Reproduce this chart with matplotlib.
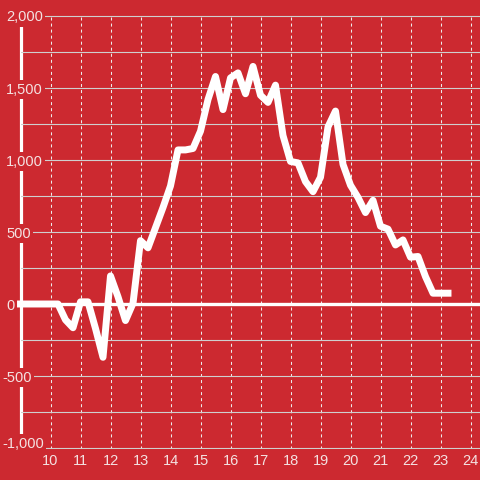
import matplotlib
matplotlib.use("Agg")
import matplotlib.pyplot as plt
import matplotlib.transforms as mtransforms
import numpy as np

plt.rcParams["font.family"] = ["Liberation Sans", "DejaVu Sans"]

# quarter-hour readings, 9:00 to 23:15
values = [
    0, 0, 0, 0,
    0, 0, -110, -165,
    15, 15, -170, -370,
    195, 50, -115, 5,
    440, 390, 530, 670,
    820, 1070, 1070, 1080,
    1200, 1420, 1580, 1350,
    1570, 1605, 1460, 1650,
    1450, 1400, 1520, 1170,
    990, 980, 850, 780,
    880, 1230, 1340, 970,
    825, 740, 635, 720,
    540, 520, 410, 445,
    325, 330, 190, 75,
    75, 75,
]
times = np.arange(9, 9 + 0.25 * len(values), 0.25)

x_ticks = list(range(10, 25))
y_major = [-1000, -500, 0, 500, 1000, 1500, 2000]
y_minor = [-750, -250, 250, 750, 1250, 1750]

bg = "#cc2930"
text_col = "#f4e2e2"

fig = plt.figure(figsize=(4.8, 4.8), dpi=100)
fig.patch.set_facecolor(bg)

# axes placed in pixel terms: spine at x~20.5, 30 px per hour, 72 px per 500
ymin, ymax = -1005, 2005
px_per_unit_y = 72 / 500
top_px = 16 - (ymax - 2000) * px_per_unit_y
bot_px = 448 + (-1000 - ymin) * px_per_unit_y
ax = fig.add_axes([20.5 / 480, 1 - bot_px / 480, 1 - 20.5 / 480, (bot_px - top_px) / 480])
ax.set_facecolor(bg)
ax.set_xlim(9, 9 + 459.5 / 30)
ax.set_ylim(ymin, ymax)

ax.set_axisbelow(True)
for side in ["top", "right", "bottom"]:
    ax.spines[side].set_visible(False)
ax.spines["left"].set_color("white")
ax.spines["left"].set_linewidth(2.3)
ax.spines["left"].set_zorder(0.4)

ax.set_xticks(x_ticks)
ax.set_xticklabels([str(t) for t in x_ticks])
ax.set_yticks(y_major)
ax.set_yticklabels([f"{v:,}" for v in y_major])
ax.set_yticks(y_minor, minor=True)

ax.tick_params(axis="x", length=0, pad=3.5, labelsize=10.5, labelcolor=text_col)
ax.tick_params(axis="y", which="both", length=0, pad=10.4, labelsize=10.5, labelcolor=text_col)

for v, lab in zip(y_major, ax.get_yticklabels()):
    lab.set_horizontalalignment("left")
    lab.set_bbox(dict(facecolor=bg, edgecolor="none", pad=1.5))
    dx = -4 if v < 0 else 0
    dy = 6 if v == -1000 else 0
    if dx or dy:
        shift = mtransforms.ScaledTranslation(dx / 100, dy / 100, fig.dpi_scale_trans)
        lab.set_transform(lab.get_transform() + shift)

ax.grid(axis="y", which="both", color="#cfcfcf", linewidth=0.8)
ax.grid(axis="x", which="major", color="#ececec", linewidth=0.75, linestyle=(0, (2.9, 2.9)))

ax.axhline(0, color="white", linewidth=2.4, zorder=1)

ax.plot(times, values, color="white", linewidth=5, solid_capstyle="projecting",
        solid_joinstyle="round", clip_on=False, zorder=3)

fig.savefig("out.png", dpi=100, facecolor=bg)
